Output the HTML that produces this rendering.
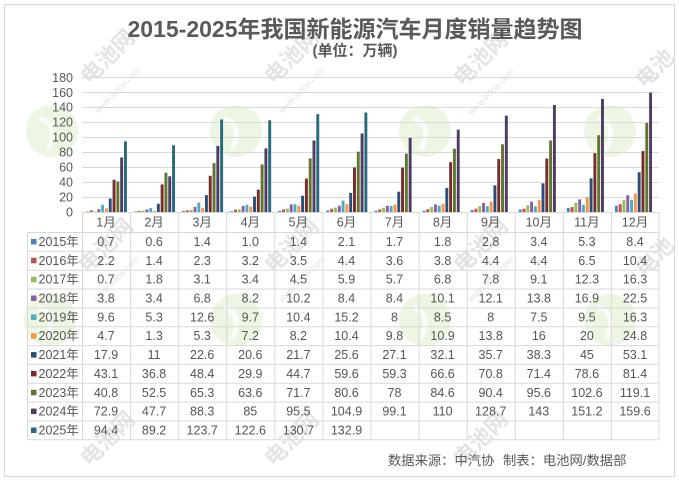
<!DOCTYPE html>
<html><head><meta charset="utf-8">
<style>
html,body{margin:0;padding:0;background:#fff;width:679px;height:481px;overflow:hidden;}
svg{display:block;font-family:"Liberation Sans","Noto Sans CJK SC",sans-serif;}
.s0{fill:#4f81bd}.s1{fill:#c0504d}.s2{fill:#9bbb59}.s3{fill:#8064a2}.s4{fill:#4bacc6}.s5{fill:#f79646}
.s6{fill:#2c4d75}.s7{fill:#772c2a}.s8{fill:#5f7530}.s9{fill:#4d3b62}.s10{fill:#276a7c}
.t{font-size:12.5px;fill:#555;}
.wm{font-size:22px;font-weight:bold;fill:#e4e4e4;}
.wm2{font-size:9px;fill:#e2e2e2;}
</style></head>
<body>
<svg width="679" height="481" viewBox="0 0 679 481" xmlns="http://www.w3.org/2000/svg">
<rect x="0" y="0" width="679" height="481" fill="#fff"/>
<!-- watermark circles -->
<g opacity="0.75">
<g fill="#e6f4da">
<circle cx="52" cy="131" r="26"/><circle cx="236" cy="131" r="26"/><circle cx="425" cy="131" r="26"/><circle cx="610" cy="131" r="26"/>
<circle cx="50" cy="320" r="26"/><circle cx="236" cy="320" r="26"/><circle cx="425" cy="320" r="26"/><circle cx="610" cy="320" r="26"/>
</g>
<g fill="none" stroke="#fafdf7" stroke-width="5">
<path d="M40 118 Q60 125 48 150"/><path d="M224 118 Q244 125 232 150"/><path d="M413 118 Q433 125 421 150"/><path d="M598 118 Q618 125 606 150"/>
<path d="M38 307 Q58 314 46 339"/><path d="M224 307 Q244 314 232 339"/><path d="M413 307 Q433 314 421 339"/><path d="M598 307 Q618 314 606 339"/>
</g>
</g>
<!-- watermark text -->
<g>
<text class="wm" text-anchor="middle" transform="translate(113,62) rotate(-45)">电池网</text>
<text class="wm" text-anchor="middle" transform="translate(297,62) rotate(-45)">电池网</text>
<text class="wm" text-anchor="middle" transform="translate(486,64) rotate(-45)">电池网</text>
<text class="wm" text-anchor="middle" transform="translate(660,74) rotate(-45)">电池</text>
<text class="wm" text-anchor="middle" transform="translate(111,251) rotate(-45)">电池网</text>
<text class="wm" text-anchor="middle" transform="translate(297,251) rotate(-45)">电池网</text>
<text class="wm" text-anchor="middle" transform="translate(486,251) rotate(-45)">电池网</text>
<text class="wm" text-anchor="middle" transform="translate(660,262) rotate(-45)">电池</text>
<text class="wm" text-anchor="middle" transform="translate(113,444) rotate(-45)">电池网</text>
<text class="wm" text-anchor="middle" transform="translate(297,444) rotate(-45)">电池网</text>
<text class="wm" text-anchor="middle" transform="translate(486,444) rotate(-45)">电池网</text>
<text class="wm2" text-anchor="middle" transform="translate(120,92) rotate(-45)">www.itdcw.com</text>
<text class="wm2" text-anchor="middle" transform="translate(304,92) rotate(-45)">www.itdcw.com</text>
<text class="wm2" text-anchor="middle" transform="translate(493,94) rotate(-45)">www.itdcw.com</text>
<text class="wm2" text-anchor="middle" transform="translate(118,281) rotate(-45)">www.itdcw.com</text>
<text class="wm2" text-anchor="middle" transform="translate(304,281) rotate(-45)">www.itdcw.com</text>
<text class="wm2" text-anchor="middle" transform="translate(493,281) rotate(-45)">www.itdcw.com</text>
</g>

<!-- outer border -->
<rect x="4.5" y="4.5" width="670" height="472" fill="none" stroke="#d9d9d9" stroke-width="1"/>

<!-- title -->
<text x="355" y="37" text-anchor="middle" font-size="23" font-weight="bold" fill="#595959">2015-2025年我国新能源汽车月度销量趋势图</text>
<text x="355" y="55.5" text-anchor="middle" font-size="15" font-weight="bold" fill="#595959">(单位：万辆)</text>

<!-- gridlines -->
<g stroke="#d9d9d9" stroke-width="1">
<line x1="82" x2="659" y1="77.5" y2="77.5"/>
<line x1="82" x2="659" y1="92.5" y2="92.5"/>
<line x1="82" x2="659" y1="107.5" y2="107.5"/>
<line x1="82" x2="659" y1="122.5" y2="122.5"/>
<line x1="82" x2="659" y1="137.5" y2="137.5"/>
<line x1="82" x2="659" y1="152.5" y2="152.5"/>
<line x1="82" x2="659" y1="167.5" y2="167.5"/>
<line x1="82" x2="659" y1="182.5" y2="182.5"/>
<line x1="82" x2="659" y1="197.5" y2="197.5"/>
</g>

<!-- y labels -->
<g font-size="12.5" fill="#595959" text-anchor="end">
<text x="73" y="216.5">0</text>
<text x="73" y="201.5">20</text>
<text x="73" y="186.5">40</text>
<text x="73" y="171.6">60</text>
<text x="73" y="156.6">80</text>
<text x="73" y="141.7">100</text>
<text x="73" y="126.7">120</text>
<text x="73" y="111.7">140</text>
<text x="73" y="96.8">160</text>
<text x="73" y="81.8">180</text>
</g>

<!-- bars -->
<g>
<g transform="translate(86,212) scale(1,-0.74833)">
<rect class="s0" x="0" width="2.9" height="0.7"/><rect class="s1" x="3.8" width="2.9" height="2.2"/><rect class="s2" x="7.6" width="2.9" height="0.7"/><rect class="s3" x="11.4" width="2.9" height="3.8"/><rect class="s4" x="15.2" width="2.9" height="9.6"/><rect class="s5" x="19" width="2.9" height="4.7"/><rect class="s6" x="22.8" width="2.9" height="17.9"/><rect class="s7" x="26.6" width="2.9" height="43.1"/><rect class="s8" x="30.4" width="2.9" height="40.8"/><rect class="s9" x="34.2" width="2.9" height="72.9"/><rect class="s10" x="38" width="2.9" height="94.4"/>
</g>
<g transform="translate(134.08,212) scale(1,-0.74833)">
<rect class="s0" x="0" width="2.9" height="0.6"/><rect class="s1" x="3.8" width="2.9" height="1.4"/><rect class="s2" x="7.6" width="2.9" height="1.8"/><rect class="s3" x="11.4" width="2.9" height="3.4"/><rect class="s4" x="15.2" width="2.9" height="5.3"/><rect class="s5" x="19" width="2.9" height="1.3"/><rect class="s6" x="22.8" width="2.9" height="11"/><rect class="s7" x="26.6" width="2.9" height="36.8"/><rect class="s8" x="30.4" width="2.9" height="52.5"/><rect class="s9" x="34.2" width="2.9" height="47.7"/><rect class="s10" x="38" width="2.9" height="89.2"/>
</g>
<g transform="translate(182.17,212) scale(1,-0.74833)">
<rect class="s0" x="0" width="2.9" height="1.4"/><rect class="s1" x="3.8" width="2.9" height="2.3"/><rect class="s2" x="7.6" width="2.9" height="3.1"/><rect class="s3" x="11.4" width="2.9" height="6.8"/><rect class="s4" x="15.2" width="2.9" height="12.6"/><rect class="s5" x="19" width="2.9" height="5.3"/><rect class="s6" x="22.8" width="2.9" height="22.6"/><rect class="s7" x="26.6" width="2.9" height="48.4"/><rect class="s8" x="30.4" width="2.9" height="65.3"/><rect class="s9" x="34.2" width="2.9" height="88.3"/><rect class="s10" x="38" width="2.9" height="123.7"/>
</g>
<g transform="translate(230.25,212) scale(1,-0.74833)">
<rect class="s0" x="0" width="2.9" height="1.0"/><rect class="s1" x="3.8" width="2.9" height="3.2"/><rect class="s2" x="7.6" width="2.9" height="3.4"/><rect class="s3" x="11.4" width="2.9" height="8.2"/><rect class="s4" x="15.2" width="2.9" height="9.7"/><rect class="s5" x="19" width="2.9" height="7.2"/><rect class="s6" x="22.8" width="2.9" height="20.6"/><rect class="s7" x="26.6" width="2.9" height="29.9"/><rect class="s8" x="30.4" width="2.9" height="63.6"/><rect class="s9" x="34.2" width="2.9" height="85"/><rect class="s10" x="38" width="2.9" height="122.6"/>
</g>
<g transform="translate(278.33,212) scale(1,-0.74833)">
<rect class="s0" x="0" width="2.9" height="1.4"/><rect class="s1" x="3.8" width="2.9" height="3.5"/><rect class="s2" x="7.6" width="2.9" height="4.5"/><rect class="s3" x="11.4" width="2.9" height="10.2"/><rect class="s4" x="15.2" width="2.9" height="10.4"/><rect class="s5" x="19" width="2.9" height="8.2"/><rect class="s6" x="22.8" width="2.9" height="21.7"/><rect class="s7" x="26.6" width="2.9" height="44.7"/><rect class="s8" x="30.4" width="2.9" height="71.7"/><rect class="s9" x="34.2" width="2.9" height="95.5"/><rect class="s10" x="38" width="2.9" height="130.7"/>
</g>
<g transform="translate(326.42,212) scale(1,-0.74833)">
<rect class="s0" x="0" width="2.9" height="2.1"/><rect class="s1" x="3.8" width="2.9" height="4.4"/><rect class="s2" x="7.6" width="2.9" height="5.9"/><rect class="s3" x="11.4" width="2.9" height="8.4"/><rect class="s4" x="15.2" width="2.9" height="15.2"/><rect class="s5" x="19" width="2.9" height="10.4"/><rect class="s6" x="22.8" width="2.9" height="25.6"/><rect class="s7" x="26.6" width="2.9" height="59.6"/><rect class="s8" x="30.4" width="2.9" height="80.6"/><rect class="s9" x="34.2" width="2.9" height="104.9"/><rect class="s10" x="38" width="2.9" height="132.9"/>
</g>
<g transform="translate(374.5,212) scale(1,-0.74833)">
<rect class="s0" x="0" width="2.9" height="1.7"/><rect class="s1" x="3.8" width="2.9" height="3.6"/><rect class="s2" x="7.6" width="2.9" height="5.7"/><rect class="s3" x="11.4" width="2.9" height="8.4"/><rect class="s4" x="15.2" width="2.9" height="8"/><rect class="s5" x="19" width="2.9" height="9.8"/><rect class="s6" x="22.8" width="2.9" height="27.1"/><rect class="s7" x="26.6" width="2.9" height="59.3"/><rect class="s8" x="30.4" width="2.9" height="78"/><rect class="s9" x="34.2" width="2.9" height="99.1"/>
</g>
<g transform="translate(422.58,212) scale(1,-0.74833)">
<rect class="s0" x="0" width="2.9" height="1.8"/><rect class="s1" x="3.8" width="2.9" height="3.8"/><rect class="s2" x="7.6" width="2.9" height="6.8"/><rect class="s3" x="11.4" width="2.9" height="10.1"/><rect class="s4" x="15.2" width="2.9" height="8.5"/><rect class="s5" x="19" width="2.9" height="10.9"/><rect class="s6" x="22.8" width="2.9" height="32.1"/><rect class="s7" x="26.6" width="2.9" height="66.6"/><rect class="s8" x="30.4" width="2.9" height="84.6"/><rect class="s9" x="34.2" width="2.9" height="110"/>
</g>
<g transform="translate(470.67,212) scale(1,-0.74833)">
<rect class="s0" x="0" width="2.9" height="2.8"/><rect class="s1" x="3.8" width="2.9" height="4.4"/><rect class="s2" x="7.6" width="2.9" height="7.8"/><rect class="s3" x="11.4" width="2.9" height="12.1"/><rect class="s4" x="15.2" width="2.9" height="8"/><rect class="s5" x="19" width="2.9" height="13.8"/><rect class="s6" x="22.8" width="2.9" height="35.7"/><rect class="s7" x="26.6" width="2.9" height="70.8"/><rect class="s8" x="30.4" width="2.9" height="90.4"/><rect class="s9" x="34.2" width="2.9" height="128.7"/>
</g>
<g transform="translate(518.75,212) scale(1,-0.74833)">
<rect class="s0" x="0" width="2.9" height="3.4"/><rect class="s1" x="3.8" width="2.9" height="4.4"/><rect class="s2" x="7.6" width="2.9" height="9.1"/><rect class="s3" x="11.4" width="2.9" height="13.8"/><rect class="s4" x="15.2" width="2.9" height="7.5"/><rect class="s5" x="19" width="2.9" height="16"/><rect class="s6" x="22.8" width="2.9" height="38.3"/><rect class="s7" x="26.6" width="2.9" height="71.4"/><rect class="s8" x="30.4" width="2.9" height="95.6"/><rect class="s9" x="34.2" width="2.9" height="143"/>
</g>
<g transform="translate(566.83,212) scale(1,-0.74833)">
<rect class="s0" x="0" width="2.9" height="5.3"/><rect class="s1" x="3.8" width="2.9" height="6.5"/><rect class="s2" x="7.6" width="2.9" height="12.3"/><rect class="s3" x="11.4" width="2.9" height="16.9"/><rect class="s4" x="15.2" width="2.9" height="9.5"/><rect class="s5" x="19" width="2.9" height="20"/><rect class="s6" x="22.8" width="2.9" height="45"/><rect class="s7" x="26.6" width="2.9" height="78.6"/><rect class="s8" x="30.4" width="2.9" height="102.6"/><rect class="s9" x="34.2" width="2.9" height="151.2"/>
</g>
<g transform="translate(614.92,212) scale(1,-0.74833)">
<rect class="s0" x="0" width="2.9" height="8.4"/><rect class="s1" x="3.8" width="2.9" height="10.4"/><rect class="s2" x="7.6" width="2.9" height="16.3"/><rect class="s3" x="11.4" width="2.9" height="22.5"/><rect class="s4" x="15.2" width="2.9" height="16.3"/><rect class="s5" x="19" width="2.9" height="24.8"/><rect class="s6" x="22.8" width="2.9" height="53.1"/><rect class="s7" x="26.6" width="2.9" height="81.4"/><rect class="s8" x="30.4" width="2.9" height="119.1"/><rect class="s9" x="34.2" width="2.9" height="159.6"/>
</g>
</g>

<!-- table lines -->
<g stroke="#d9d9d9" stroke-width="1">
<line x1="82" x2="659" y1="212.5" y2="212.5"/>
<line x1="27" x2="659" y1="232.5" y2="232.5"/>
<line x1="27" x2="659" y1="251.3" y2="251.3"/>
<line x1="27" x2="659" y1="270.2" y2="270.2"/>
<line x1="27" x2="659" y1="289" y2="289"/>
<line x1="27" x2="659" y1="307.9" y2="307.9"/>
<line x1="27" x2="659" y1="326.7" y2="326.7"/>
<line x1="27" x2="659" y1="345.6" y2="345.6"/>
<line x1="27" x2="659" y1="364.4" y2="364.4"/>
<line x1="27" x2="659" y1="383.3" y2="383.3"/>
<line x1="27" x2="659" y1="402.1" y2="402.1"/>
<line x1="27" x2="659" y1="421" y2="421"/>
<line x1="27" x2="659" y1="439.8" y2="439.8"/>
<line x1="27.5" x2="27.5" y1="232.5" y2="439.8"/>
<line x1="82.5" x2="82.5" y1="212" y2="439.8"/>
<line x1="130.6" x2="130.6" y1="212" y2="439.8"/>
<line x1="178.7" x2="178.7" y1="212" y2="439.8"/>
<line x1="226.7" x2="226.7" y1="212" y2="439.8"/>
<line x1="274.8" x2="274.8" y1="212" y2="439.8"/>
<line x1="322.9" x2="322.9" y1="212" y2="439.8"/>
<line x1="371" x2="371" y1="212" y2="439.8"/>
<line x1="419.1" x2="419.1" y1="212" y2="439.8"/>
<line x1="467.2" x2="467.2" y1="212" y2="439.8"/>
<line x1="515.2" x2="515.2" y1="212" y2="439.8"/>
<line x1="563.3" x2="563.3" y1="212" y2="439.8"/>
<line x1="611.4" x2="611.4" y1="212" y2="439.8"/>
<line x1="659" x2="659" y1="212" y2="439.8"/>
</g>

<!-- header -->
<text class="t" y="226.5" text-anchor="middle"><tspan x="106">1月</tspan><tspan x="154.1">2月</tspan><tspan x="202.2">3月</tspan><tspan x="250.3">4月</tspan><tspan x="298.4">5月</tspan><tspan x="346.5">6月</tspan><tspan x="394.5">7月</tspan><tspan x="442.6">8月</tspan><tspan x="490.7">9月</tspan><tspan x="538.8">10月</tspan><tspan x="586.9">11月</tspan><tspan x="635">12月</tspan></text>

<!-- legend keys -->
<rect class="s0" x="31" y="239" width="5.5" height="5.5"/>
<rect class="s1" x="31" y="257.8" width="5.5" height="5.5"/>
<rect class="s2" x="31" y="276.7" width="5.5" height="5.5"/>
<rect class="s3" x="31" y="295.5" width="5.5" height="5.5"/>
<rect class="s4" x="31" y="314.4" width="5.5" height="5.5"/>
<rect class="s5" x="31" y="333.2" width="5.5" height="5.5"/>
<rect class="s6" x="31" y="352.1" width="5.5" height="5.5"/>
<rect class="s7" x="31" y="370.9" width="5.5" height="5.5"/>
<rect class="s8" x="31" y="389.8" width="5.5" height="5.5"/>
<rect class="s9" x="31" y="408.6" width="5.5" height="5.5"/>
<rect class="s10" x="31" y="427.5" width="5.5" height="5.5"/>

<g class="t">
<text x="38.5" y="246">2015年</text>
<text x="38.5" y="264.8">2016年</text>
<text x="38.5" y="283.7">2017年</text>
<text x="38.5" y="302.5">2018年</text>
<text x="38.5" y="321.4">2019年</text>
<text x="38.5" y="340.2">2020年</text>
<text x="38.5" y="359.1">2021年</text>
<text x="38.5" y="377.9">2022年</text>
<text x="38.5" y="396.8">2023年</text>
<text x="38.5" y="415.6">2024年</text>
<text x="38.5" y="434.5">2025年</text>
</g>

<g class="t" text-anchor="middle">
<text y="246"><tspan x="106">0.7</tspan><tspan x="154.1">0.6</tspan><tspan x="202.2">1.4</tspan><tspan x="250.3">1.0</tspan><tspan x="298.4">1.4</tspan><tspan x="346.5">2.1</tspan><tspan x="394.5">1.7</tspan><tspan x="442.6">1.8</tspan><tspan x="490.7">2.8</tspan><tspan x="538.8">3.4</tspan><tspan x="586.9">5.3</tspan><tspan x="635">8.4</tspan></text>
<text y="264.8"><tspan x="106">2.2</tspan><tspan x="154.1">1.4</tspan><tspan x="202.2">2.3</tspan><tspan x="250.3">3.2</tspan><tspan x="298.4">3.5</tspan><tspan x="346.5">4.4</tspan><tspan x="394.5">3.6</tspan><tspan x="442.6">3.8</tspan><tspan x="490.7">4.4</tspan><tspan x="538.8">4.4</tspan><tspan x="586.9">6.5</tspan><tspan x="635">10.4</tspan></text>
<text y="283.7"><tspan x="106">0.7</tspan><tspan x="154.1">1.8</tspan><tspan x="202.2">3.1</tspan><tspan x="250.3">3.4</tspan><tspan x="298.4">4.5</tspan><tspan x="346.5">5.9</tspan><tspan x="394.5">5.7</tspan><tspan x="442.6">6.8</tspan><tspan x="490.7">7.8</tspan><tspan x="538.8">9.1</tspan><tspan x="586.9">12.3</tspan><tspan x="635">16.3</tspan></text>
<text y="302.5"><tspan x="106">3.8</tspan><tspan x="154.1">3.4</tspan><tspan x="202.2">6.8</tspan><tspan x="250.3">8.2</tspan><tspan x="298.4">10.2</tspan><tspan x="346.5">8.4</tspan><tspan x="394.5">8.4</tspan><tspan x="442.6">10.1</tspan><tspan x="490.7">12.1</tspan><tspan x="538.8">13.8</tspan><tspan x="586.9">16.9</tspan><tspan x="635">22.5</tspan></text>
<text y="321.4"><tspan x="106">9.6</tspan><tspan x="154.1">5.3</tspan><tspan x="202.2">12.6</tspan><tspan x="250.3">9.7</tspan><tspan x="298.4">10.4</tspan><tspan x="346.5">15.2</tspan><tspan x="394.5">8</tspan><tspan x="442.6">8.5</tspan><tspan x="490.7">8</tspan><tspan x="538.8">7.5</tspan><tspan x="586.9">9.5</tspan><tspan x="635">16.3</tspan></text>
<text y="340.2"><tspan x="106">4.7</tspan><tspan x="154.1">1.3</tspan><tspan x="202.2">5.3</tspan><tspan x="250.3">7.2</tspan><tspan x="298.4">8.2</tspan><tspan x="346.5">10.4</tspan><tspan x="394.5">9.8</tspan><tspan x="442.6">10.9</tspan><tspan x="490.7">13.8</tspan><tspan x="538.8">16</tspan><tspan x="586.9">20</tspan><tspan x="635">24.8</tspan></text>
<text y="359.1"><tspan x="106">17.9</tspan><tspan x="154.1">11</tspan><tspan x="202.2">22.6</tspan><tspan x="250.3">20.6</tspan><tspan x="298.4">21.7</tspan><tspan x="346.5">25.6</tspan><tspan x="394.5">27.1</tspan><tspan x="442.6">32.1</tspan><tspan x="490.7">35.7</tspan><tspan x="538.8">38.3</tspan><tspan x="586.9">45</tspan><tspan x="635">53.1</tspan></text>
<text y="377.9"><tspan x="106">43.1</tspan><tspan x="154.1">36.8</tspan><tspan x="202.2">48.4</tspan><tspan x="250.3">29.9</tspan><tspan x="298.4">44.7</tspan><tspan x="346.5">59.6</tspan><tspan x="394.5">59.3</tspan><tspan x="442.6">66.6</tspan><tspan x="490.7">70.8</tspan><tspan x="538.8">71.4</tspan><tspan x="586.9">78.6</tspan><tspan x="635">81.4</tspan></text>
<text y="396.8"><tspan x="106">40.8</tspan><tspan x="154.1">52.5</tspan><tspan x="202.2">65.3</tspan><tspan x="250.3">63.6</tspan><tspan x="298.4">71.7</tspan><tspan x="346.5">80.6</tspan><tspan x="394.5">78</tspan><tspan x="442.6">84.6</tspan><tspan x="490.7">90.4</tspan><tspan x="538.8">95.6</tspan><tspan x="586.9">102.6</tspan><tspan x="635">119.1</tspan></text>
<text y="415.6"><tspan x="106">72.9</tspan><tspan x="154.1">47.7</tspan><tspan x="202.2">88.3</tspan><tspan x="250.3">85</tspan><tspan x="298.4">95.5</tspan><tspan x="346.5">104.9</tspan><tspan x="394.5">99.1</tspan><tspan x="442.6">110</tspan><tspan x="490.7">128.7</tspan><tspan x="538.8">143</tspan><tspan x="586.9">151.2</tspan><tspan x="635">159.6</tspan></text>
<text y="434.5"><tspan x="106">94.4</tspan><tspan x="154.1">89.2</tspan><tspan x="202.2">123.7</tspan><tspan x="250.3">122.6</tspan><tspan x="298.4">130.7</tspan><tspan x="346.5">132.9</tspan></text>
</g>

<!-- footer -->
<text x="388" y="465" font-size="13.3" fill="#595959">数据来源：中汽协</text>
<text x="503" y="465" font-size="13.3" fill="#595959">制表：电池网/数据部</text>
</svg>
</body></html>
